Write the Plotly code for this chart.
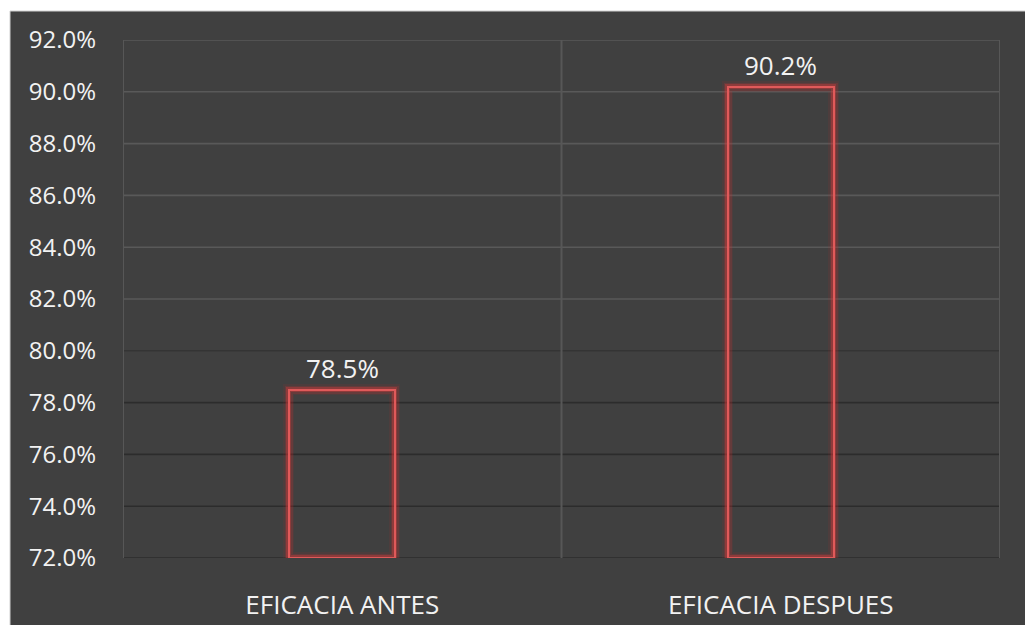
import plotly.graph_objects as go

# Data
categories = ["EFICACIA ANTES", "EFICACIA DESPUES"]
eficacia = [78.5, 90.2]
y_ticks = [72, 74, 76, 78, 80, 82, 84, 86, 88, 90, 92]

BG = "#404040"
FONT = "Open Sans, Noto Sans, sans-serif"
W, H = 1025, 625
ML, MR, MT, MB = 123, 25, 40, 67
PW, PH = W - ML - MR, H - MT - MB

fig = go.Figure()

# Red outlined bars with a soft glow: wide translucent strokes under a thin core stroke
for lw, col in [(11, "rgba(200,40,40,0.10)"), (8, "rgba(210,50,50,0.18)"),
                (5, "rgba(220,60,60,0.35)"), (2, "#e05a5a")]:
    fig.add_trace(go.Bar(
        x=categories, y=[v - y_ticks[0] for v in eficacia], base=y_ticks[0],
        width=0.242,
        marker=dict(color="rgba(0,0,0,0)", line=dict(color=col, width=lw)),
        hoverinfo="skip", showlegend=False,
    ))

# Value labels above the bars
annotations = [dict(x=c, y=v, xref="x", yref="y", text=f"{v:.1f}%", showarrow=False,
                    yanchor="bottom", yshift=2,
                    font=dict(family=FONT, size=26, color="#f2f2f2"))
               for c, v in zip(categories, eficacia)]

# Chart area background (paper stays white around the edge)
def px_x(px):
    return (px - ML) / PW

def px_y(py):
    return (H - MB - py) / PH

shapes = [dict(type="rect", xref="paper", yref="paper",
               x0=px_x(10), x1=px_x(W + 5), y0=px_y(H + 5), y1=px_y(11),
               fillcolor=BG, line=dict(color="#d0d0d0", width=1), layer="below")]

# Horizontal gridlines: lighter in the upper part, darker lower down
for t in y_ticks:
    col = "#595959" if t > 80 else "#2c2c2c"
    if t == 80:
        col = "#343434"
    shapes.append(dict(type="line", xref="paper", yref="y", x0=0, x1=1, y0=t, y1=t,
                       line=dict(color=col, width=1.6), layer="below"))

# Vertical gridlines on the category boundaries
for i in range(len(categories) + 1):
    shapes.append(dict(type="line", xref="x", yref="paper", x0=i - 0.5, x1=i - 0.5, y0=0, y1=1,
                       line=dict(color="#575757", width=2), layer="below"))

fig.update_layout(
    width=W, height=H,
    margin=dict(l=ML, r=MR, t=MT, b=MB, autoexpand=False),
    paper_bgcolor="white", plot_bgcolor="rgba(0,0,0,0)",
    barmode="overlay", bargap=0,
    shapes=shapes, annotations=annotations,
    font=dict(family=FONT, color="#f2f2f2"),
    xaxis=dict(
        type="category", showgrid=False, automargin=False,
        ticks="", showline=False, zeroline=False, range=[-0.5, 1.5],
        tickfont=dict(family=FONT, size=26, color="#f2f2f2"), ticklabelstandoff=29,
    ),
    yaxis=dict(
        range=[y_ticks[0], y_ticks[-1]], tickvals=y_ticks, automargin=False,
        ticktext=[f"{t:.1f}%" for t in y_ticks],
        showgrid=False, zeroline=False, showline=False, ticks="",
        tickfont=dict(family=FONT, size=24, color="#f2f2f2"), ticklabelstandoff=26,
    ),
)

fig.write_html("out.html")
